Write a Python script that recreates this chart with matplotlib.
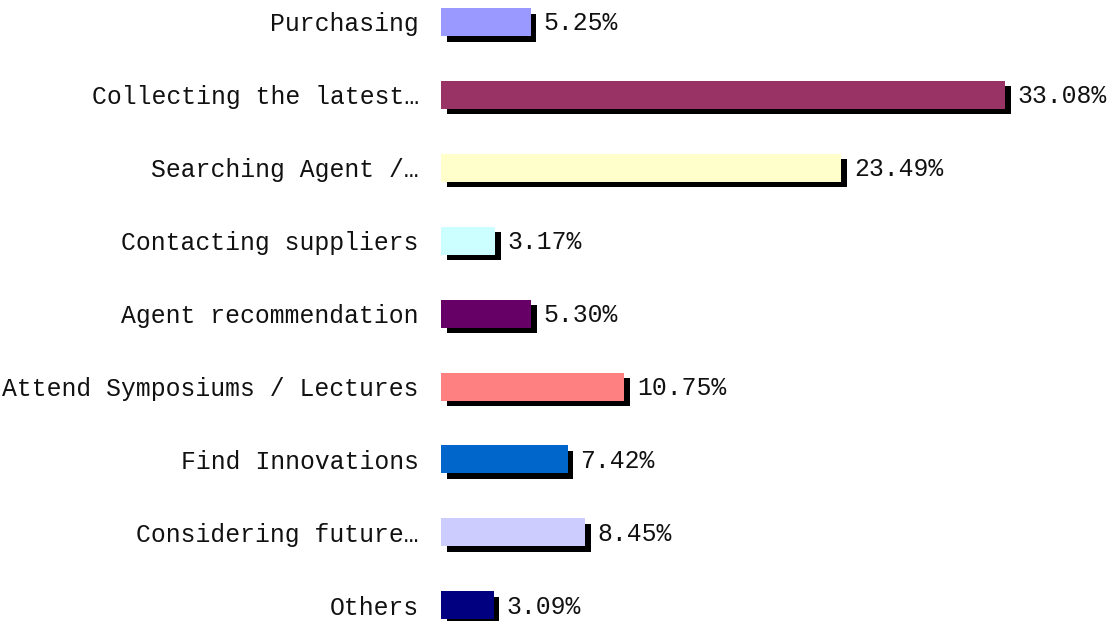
import matplotlib
matplotlib.use("Agg")
import matplotlib.pyplot as plt
import matplotlib.patheffects as pe

categories = ["Purchasing", "Collecting the latest…", "Searching Agent /…",
              "Contacting suppliers", "Agent recommendation",
              "Attend Symposiums / Lectures", "Find Innovations",
              "Considering future…", "Others"]
values = [5.25, 33.08, 23.49, 3.17, 5.30, 10.75, 7.42, 8.45, 3.09]
colors = ["#9999FF", "#993366", "#FFFFCC", "#CCFFFF", "#660066",
          "#FF8080", "#0066CC", "#CCCCFF", "#000080"]

plt.rcParams['font.family'] = ['Liberation Mono', 'DejaVu Sans Mono']

fig = plt.figure(figsize=(11.1, 6.21), dpi=100)
W, H = 1110, 621
px_per_unit = (1005 - 441) / 33.08
xmax = 38
row = 72.9
top = 22 - row / 2
height = row * len(categories)
ax = fig.add_axes([441 / W, 1 - (top + height) / H, xmax * px_per_unit / W, height / H])

y = list(range(len(categories)))
shadow = [pe.SimplePatchShadow(offset=(4, -4), shadow_rgbFace='black', alpha=1.0), pe.Normal()]
bars = ax.barh(y, values, height=28 / row, color=colors, edgecolor='none')
for b in bars:
    b.set_path_effects(shadow)

# value labels just past the shadow
for yi, v in zip(y, values):
    ax.annotate(f"{v:.2f}%", (v, yi), xytext=(9, -1), textcoords='offset points',
                ha='left', va='center', fontsize=17.8, color='#111111')

ax.set_yticks(y)
ax.set_yticklabels(categories, fontsize=17.8, color='#111111')
ax.tick_params(axis='y', length=0, pad=16)
ax.set_xticks([])
ax.set_xlim(0, xmax)
ax.set_ylim(len(categories) - 0.5, -0.5)
for s in ax.spines.values():
    s.set_visible(False)

fig.savefig("out.png", dpi=100)
